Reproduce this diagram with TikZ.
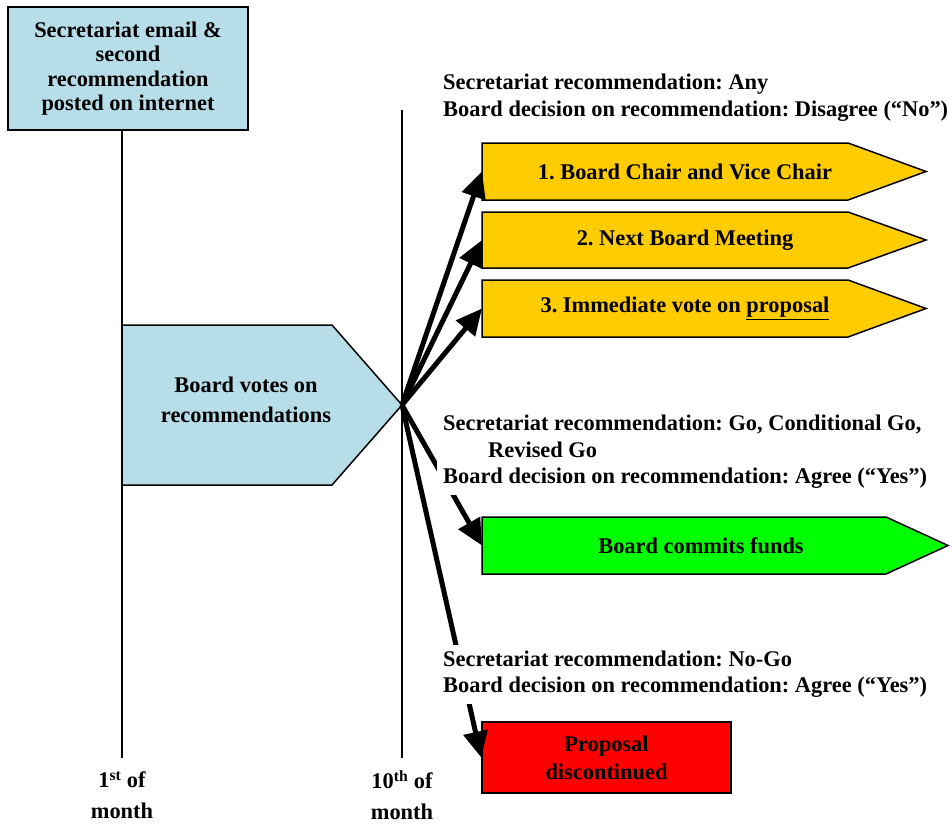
\documentclass[tikz,border=0pt]{standalone}
\usepackage{fontspec}
\setmainfont{Liberation Serif}
\usetikzlibrary{arrows.meta}
\definecolor{boxblue}{RGB}{183,222,232}
\definecolor{boxyellow}{RGB}{255,204,0}
\definecolor{boxgreen}{RGB}{0,255,0}
\definecolor{boxred}{RGB}{255,0,0}
\newcommand{\PointBox}[7][]{%
  \filldraw[#1, line width=1.5pt] (#3,#4) -- (#6,#4) -- (#7,{(#4+#5)/2}) -- (#6,#5) -- (#3,#5) -- cycle;
  \coordinate (#2) at (#3,{(#4+#5)/2});
  \coordinate (#2 tip) at (#7,{(#4+#5)/2});}
\frenchspacing

\begin{document}
\begin{tikzpicture}[x=1pt, y=-1pt, font=\fontsize{22.4}{26.5}\selectfont\bfseries,
	lbl/.style={align=center, inner sep=0pt},
	note/.style={align=left, anchor=west, fill=white, inner sep=6pt},
	vote/.style={-{Triangle[length=26pt,width=24pt]}, line width=5pt},
	timeline/.style={line width=1.5pt}]
\useasboundingbox (0,0) rectangle (952,827);

\node[draw, line width=1.5pt, fill=boxblue, minimum width=240pt, minimum height=123pt, align=center,
	font=\fontsize{22.4}{24.5}\selectfont\bfseries] (post) at (128,68.5)
	{Secretariat email \&\\second\\recommendation\\posted on internet};
\coordinate (first) at (122,758);
\coordinate (tenth) at (402,758);
\draw[timeline] (first |- post.south) -- (first);
\draw[timeline] (402,110) -- (tenth);
\node[lbl] (firstlbl) at (122,795) {1\textsuperscript{st} of\\[4pt]month};
\node[lbl] (tenthlbl) at (402,795) {10\textsuperscript{th} of\\[4pt]month};

\PointBox[fill=boxblue]{board}{122}{325}{485}{332}{402}
\node[lbl] (votes) at (246,400) {Board votes on\\[3pt]recommendations};

\PointBox[fill=boxyellow]{chair}{482}{143}{200}{848}{926}
\PointBox[fill=boxyellow]{meeting}{482}{212}{268}{848}{926}
\PointBox[fill=boxyellow]{immediate}{482}{280}{337}{848}{926}
\PointBox[fill=boxgreen]{funds}{482}{517}{574}{886}{948}
\node[draw, line width=1.5pt, fill=boxred, minimum width=249pt, minimum height=71pt, align=center,
	font=\fontsize{22.4}{28}\selectfont\bfseries] (stop) at (606.5,757.5) {Proposal\\discontinued};

\node[lbl] (chairtxt) at (685,171.5) {1. Board Chair and Vice Chair};
\node[lbl] (meetingtxt) at (685,240) {2. Next Board Meeting};
\node[lbl] (immediatetxt) at (685,308.5) {3. Immediate vote on \underline{proposal}};
\node[lbl] (fundstxt) at (701,545.5) {Board commits funds};

\draw[vote] (board tip) -- (chair);
\draw[vote] (board tip) -- (meeting);
\draw[vote] (board tip) -- (immediate);
\draw[vote] (board tip) -- (funds);
\draw[vote] (board tip) -- (stop.west);

\node[note] (anynote) at (437,97.5)
	{Secretariat recommendation: Any\\Board decision on recommendation: Disagree (“No”)};
\node[note] (gonote) at (437,452)
	{Secretariat recommendation: Go, Conditional Go,\\\hspace*{45pt}Revised Go\\Board decision on recommendation: Agree (“Yes”)};
\node[note] (nogonote) at (437,674)
	{Secretariat recommendation: No-Go\\Board decision on recommendation: Agree (“Yes”)};
\end{tikzpicture}
\end{document}
